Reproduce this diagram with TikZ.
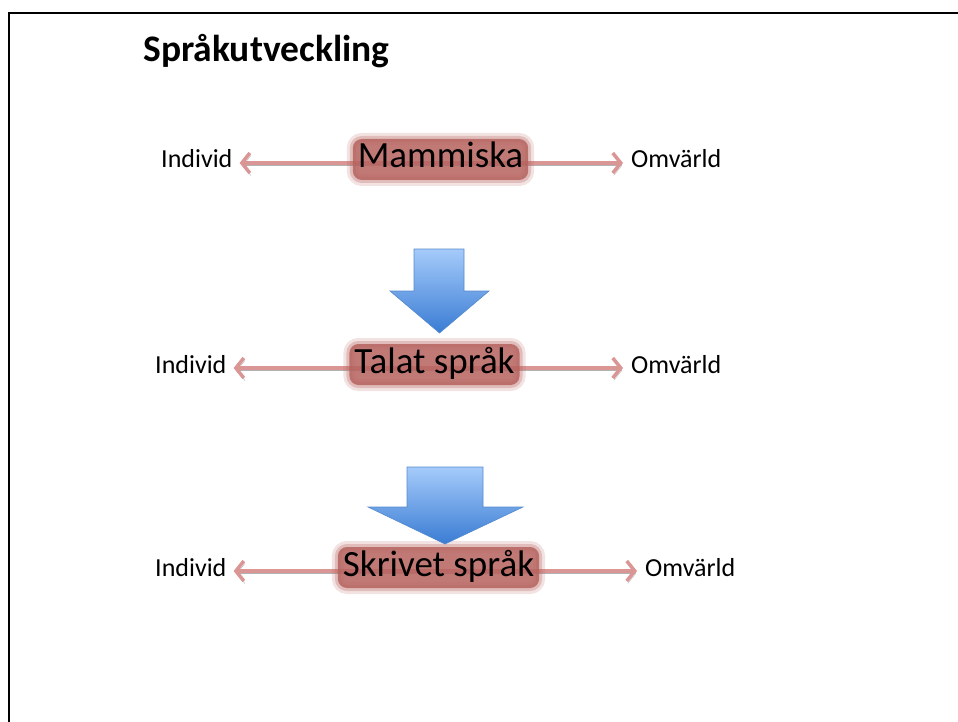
\documentclass[tikz,border=0pt]{standalone}
\usepackage{fontspec}
\setmainfont{Carlito}
\usetikzlibrary{arrows.meta}
\definecolor{link-color}{RGB}{217,150,148}
\definecolor{glow-color}{RGB}{182,98,94}
\definecolor{down-top}{RGB}{165,203,250}
\definecolor{down-bottom}{RGB}{58,124,212}
\definecolor{down-line}{RGB}{86,138,205}

\tikzset{
	side/.style={inner sep=0pt, text height=17pt, text depth=7pt, font=\fontsize{26}{31}\selectfont},
	stage/.style={fill=glow-color, fill opacity=0.85, text opacity=1, rounded corners=9pt, inner xsep=5pt, inner ysep=3pt, text height=26pt, text depth=9pt, font=\fontsize{37}{44}\selectfont,
		preaction={draw=glow-color, draw opacity=0.18, line width=12pt},
		preaction={draw=glow-color, draw opacity=0.3, line width=6pt}},
	link/.style={draw=link-color, line width=3.5pt, line cap=round, line join=round, shorten <=7pt, shorten >=8pt, {Straight Barb[length=8pt,width=20pt]}-{Straight Barb[length=8pt,width=20pt]}, preaction={draw=black!30, transform canvas={shift={(1pt,-2.5pt)}}}},
	downarrow/.style={top color=down-top, bottom color=down-bottom, draw=down-line, line width=0.6pt}
}

\begin{document}
\begin{tikzpicture}[x=1pt,y=-1pt]
	    \useasboundingbox (0,0) rectangle (958,722);
	    \draw[line width=2.5pt] (9,730) -- (9,13) -- (966,13);
	    \node[anchor=base west, font=\fontsize{37.5}{44}\selectfont\bfseries] (title) at (140,62) {Språkutveckling};
	
	    \node[side, anchor=base west] (ind1) at (161,168) {Individ};
	    \node[side, anchor=base west] (omv1) at (631,168) {Omvärld};
	    \draw[link] (ind1) -- (omv1);
	    \node[stage, anchor=base] (mam) at (440.5,168) {Mammiska};
	
	    \shade[downarrow] (414,249) -- (464,249) -- (464,291) -- (489,291) -- (439.5,333) -- (390,291) -- (414,291) -- cycle;
	
	    \node[side, anchor=base west] (ind2) at (155,373) {Individ};
	    \node[side, anchor=base west] (omv2) at (631,373) {Omvärld};
	    \draw[link] (ind2) -- (omv2);
	    \node[stage, anchor=base] (tal) at (434.5,373) {Talat språk};
	
	    \node[side, anchor=base west] (ind3) at (155,576) {Individ};
	    \node[side, anchor=base west] (omv3) at (645,576) {Omvärld};
	    \draw[link] (ind3) -- (omv3);
	    \node[stage, anchor=base] (skr) at (438.5,576) {Skrivet språk};
	
	    \shade[downarrow] (407,467) -- (483,467) -- (483,507) -- (523,507) -- (445,544) -- (368,507) -- (407,507) -- cycle;
	\end{tikzpicture}
\end{document}
